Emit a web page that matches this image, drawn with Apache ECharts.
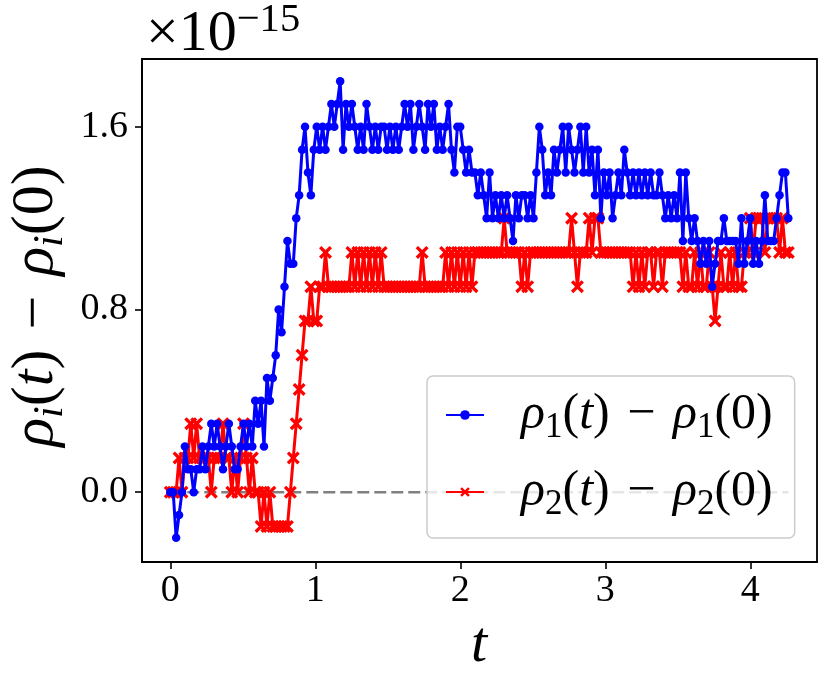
<!DOCTYPE html>
<html>
<head>
<meta charset="utf-8">
<script src="https://cdn.jsdelivr.net/npm/echarts@6/dist/echarts.min.js"></script>
<style>
  html, body { margin: 0; padding: 0; background: #fff; }
  #chart { width: 830px; height: 685px; }
</style>
</head>
<body>
<div id="chart"></div>
<script>
// time step between samples
const dt = 0.0202;

// rho_1(t) - rho_1(0), units of 1e-15
const rho1 = [
  0, 0, -0.2, -0.1, 0, 0.2, 0.1, 0.1, 0, 0.1,
  0.1, 0.2, 0.1, 0.2, 0.3, 0.2, 0.3, 0.2, 0.1, 0.2,
  0.3, 0.2, 0.1, 0.1, 0.2, 0.3, 0.2, 0.3, 0.2, 0.4,
  0.3, 0.4, 0.2, 0.5, 0.4, 0.5, 0.6, 0.8, 0.7, 0.9,
  1.1, 1.0, 1.0, 1.2, 1.3, 1.5, 1.6, 1.4, 1.3, 1.5,
  1.6, 1.5, 1.6, 1.5, 1.6, 1.7, 1.6, 1.7, 1.8, 1.5,
  1.7, 1.6, 1.7, 1.6, 1.5, 1.6, 1.5, 1.7, 1.6, 1.5,
  1.6, 1.5, 1.6, 1.6, 1.5, 1.6, 1.5, 1.6, 1.5, 1.6,
  1.7, 1.6, 1.7, 1.5, 1.6, 1.7, 1.6, 1.5, 1.7, 1.6,
  1.7, 1.5, 1.6, 1.5, 1.6, 1.7, 1.5, 1.4, 1.6, 1.6,
  1.5, 1.4, 1.5, 1.4, 1.4, 1.3, 1.4, 1.3, 1.2, 1.4,
  1.2, 1.3, 1.2, 1.3, 1.2, 1.3, 1.2, 1.1, 1.3, 1.2,
  1.3, 1.3, 1.2, 1.3, 1.2, 1.4, 1.6, 1.5, 1.3, 1.4,
  1.3, 1.5, 1.4, 1.5, 1.6, 1.4, 1.6, 1.5, 1.4, 1.5,
  1.6, 1.4, 1.6, 1.4, 1.5, 1.3, 1.5, 1.2, 1.4, 1.3,
  1.4, 1.2, 1.3, 1.4, 1.3, 1.5, 1.4, 1.3, 1.4, 1.3,
  1.4, 1.3, 1.4, 1.3, 1.4, 1.3, 1.3, 1.4, 1.3, 1.2,
  1.3, 1.2, 1.3, 1.2, 1.4, 1.1, 1.4, 1.2, 1.1, 1.2,
  1.1, 1.0, 1.1, 1.0, 1.1, 0.9, 1.0, 1.1, 1.1, 1.2,
  1.1, 1.1, 1.1, 1.1, 1.0, 1.2, 1.0, 1.1, 1.2, 1.0,
  1.1, 1.0, 1.1, 1.3, 1.1, 1.1, 1.1, 1.2, 1.3, 1.4,
  1.4, 1.2
];

// rho_2(t) - rho_2(0), units of 1e-15
const rho2 = [
  0, 0, 0, 0.15, 0, 0.15, 0.15, 0.3, 0.15, 0.3,
  0.15, 0.15, 0.15, 0.15, 0, 0.15, 0.15, 0.15, 0.3, 0.15,
  0.15, 0, 0.15, 0, 0.15, 0.3, 0.15, 0, 0.15, 0,
  0, -0.15, 0, -0.15, 0, -0.15, -0.15, -0.15, -0.15, -0.15,
  -0.15, 0, 0.15, 0.3, 0.45, 0.6, 0.75, 0.75, 0.9, 0.75,
  0.75, 0.9, 0.9, 1.05, 0.9, 0.9, 0.9, 0.9, 0.9, 0.9,
  0.9, 0.9, 1.05, 0.9, 1.05, 0.9, 1.05, 0.9, 1.05, 0.9,
  1.05, 0.9, 1.05, 0.9, 0.9, 0.9, 0.9, 0.9, 0.9, 0.9,
  0.9, 0.9, 0.9, 0.9, 0.9, 0.9, 1.05, 0.9, 0.9, 0.9,
  0.9, 0.9, 0.9, 0.9, 1.05, 0.9, 1.05, 0.9, 1.05, 0.9,
  1.05, 0.9, 1.05, 0.9, 1.05, 1.05, 1.05, 1.05, 1.05, 1.05,
  1.05, 1.05, 1.05, 1.05, 1.2, 1.05, 1.05, 1.05, 1.05, 1.05,
  0.9, 1.05, 0.9, 1.05, 1.05, 1.05, 1.05, 1.05, 1.05, 1.05,
  1.05, 1.05, 1.05, 1.05, 1.05, 1.05, 1.05, 1.2, 1.05, 0.9,
  1.05, 1.05, 1.05, 1.2, 1.05, 1.2, 1.2, 1.05, 1.05, 1.05,
  1.05, 1.05, 1.05, 1.05, 1.05, 1.05, 1.05, 1.05, 0.9, 1.05,
  0.9, 1.05, 0.9, 1.05, 1.05, 0.9, 1.05, 1.05, 0.9, 1.05,
  1.05, 1.05, 1.05, 1.05, 1.05, 0.9, 1.05, 0.9, 0.9, 1.05,
  0.9, 1.05, 0.9, 0.9, 1.05, 0.9, 0.75, 0.9, 1.05, 0.9,
  0.9, 1.05, 0.9, 1.05, 0.9, 0.9, 1.05, 1.05, 1.2, 1.05,
  1.2, 1.2, 1.2, 1.05, 1.2, 1.2, 1.2, 1.2, 1.05, 1.2,
  1.05, 1.05
];

const xTicks = [0, 1, 2, 3, 4];
const yTicks = [0, 0.8, 1.6];

const FONT = 'Liberation Serif';
// matplotlib style 'x' marker
const crossSymbol = 'path://M0,1.8L1.8,0L5,3.2L8.2,0L10,1.8L6.8,5L10,8.2L8.2,10L5,6.8L1.8,10L0,8.2L3.2,5Z';

const withTime = vals => vals.map((v, i) => [i * dt, v]);
const tEnd = (rho1.length - 1) * dt;

const legendLabels = {
  rho1: '{gap| }{it|ρ}{sub|1}{rm|(}{it|t}{rm|)}{op| − }{it|ρ}{sub|1}{rm|(0)}',
  rho2: '{gap| }{it|ρ}{sub|2}{rm|(}{it|t}{rm|)}{op| − }{it|ρ}{sub|2}{rm|(0)}'
};

function mathRich(size) {
  return {
    gap: { width: 32 },
    it: { fontFamily: FONT, fontStyle: 'italic', fontSize: size, lineHeight: size * 1.2, color: '#000' },
    rm: { fontFamily: FONT, fontSize: size, lineHeight: size * 1.2, color: '#000' },
    op: { fontFamily: FONT, fontSize: size, lineHeight: size * 1.2, color: '#000', padding: [0, 5, 0, 5] },
    sub: { fontFamily: FONT, fontSize: size * 0.7, lineHeight: size * 0.75, verticalAlign: 'bottom', color: '#000' },
    subi: { fontFamily: FONT, fontStyle: 'italic', fontSize: size * 0.7, lineHeight: size * 0.75, verticalAlign: 'bottom', color: '#000' },
    sup: { fontFamily: FONT, fontSize: size * 0.7, lineHeight: size * 0.75, verticalAlign: 'top', color: '#000' }
  };
}

const chart = echarts.init(document.getElementById('chart'));

const option = {
  animation: false,
  backgroundColor: '#fff',
  grid: {
    left: 142, right: 13, top: 59, bottom: 123,
    show: true, borderColor: '#000', borderWidth: 1.8
  },
  xAxis: {
    type: 'value',
    min: -0.195, max: 4.46,
    axisLine: { show: true, onZero: false, lineStyle: { color: '#000', width: 1.8 } },
    axisTick: { show: true, length: 7, customValues: xTicks, lineStyle: { color: '#000', width: 1.6 } },
    axisLabel: {
      customValues: xTicks, margin: 10,
      fontFamily: FONT, fontSize: 38, color: '#000',
      formatter: v => String(v)
    },
    splitLine: { show: false }
  },
  yAxis: {
    type: 'value',
    min: -0.306, max: 1.897,
    axisLine: { show: true, onZero: false, lineStyle: { color: '#000', width: 1.8 } },
    axisTick: { show: true, length: 7, customValues: yTicks, lineStyle: { color: '#000', width: 1.6 } },
    axisLabel: {
      customValues: yTicks, margin: 14,
      fontFamily: FONT, fontSize: 38, color: '#000',
      formatter: v => v.toFixed(1)
    },
    splitLine: { show: false }
  },
  legend: {
    data: ['rho1', 'rho2'],
    orient: 'vertical',
    left: 427, top: 376,
    padding: [14, 22, 16, 18],
    itemGap: 22,
    itemWidth: 38, itemHeight: 12,
    backgroundColor: 'rgba(255,255,255,0.8)',
    borderColor: '#cccccc', borderWidth: 1.5, borderRadius: 6,
    selectedMode: false,
    formatter: name => legendLabels[name],
    textStyle: { fontFamily: FONT, fontSize: 50, color: '#000', rich: mathRich(50) }
  },
  graphic: [
    {
      type: 'text', left: 146, top: 0,
      style: {
        text: '{rm|×10}{sup|−15}',
        rich: mathRich(58)
      }
    },
    {
      type: 'text', x: 36, y: 306, rotation: Math.PI / 2,
      style: {
        text: '{it|ρ}{subi|i}{rm|(}{it|t}{rm|)}{op| − }{it|ρ}{subi|i}{rm|(0)}',
        rich: mathRich(60),
        align: 'center', verticalAlign: 'middle',
        textAlign: 'center', textVerticalAlign: 'middle'
      }
    },
    {
      type: 'text', x: 479, y: 646,
      style: {
        text: 't', font: 'italic 58px "Liberation Serif"', fill: '#000',
        align: 'center', verticalAlign: 'middle',
        textAlign: 'center', textVerticalAlign: 'middle'
      }
    }
  ],
  series: [
    {
      name: 'zero',
      type: 'line',
      data: [[0, 0], [tEnd, 0]],
      symbol: 'none',
      silent: true,
      z: 1,
      lineStyle: { color: '#808080', width: 2.5, type: [12, 5] }
    },
    {
      name: 'rho2',
      type: 'line',
      data: withTime(rho2),
      symbol: crossSymbol,
      symbolSize: 13,
      z: 2,
      itemStyle: { color: '#ff0000' },
      lineStyle: { color: '#ff0000', width: 3 }
    },
    {
      name: 'rho1',
      type: 'line',
      data: withTime(rho1),
      symbol: 'circle',
      symbolSize: 8.5,
      z: 3,
      itemStyle: { color: '#0000ff' },
      lineStyle: { color: '#0000ff', width: 3 }
    }
  ]
};

chart.setOption(option);
</script>
</body>
</html>
